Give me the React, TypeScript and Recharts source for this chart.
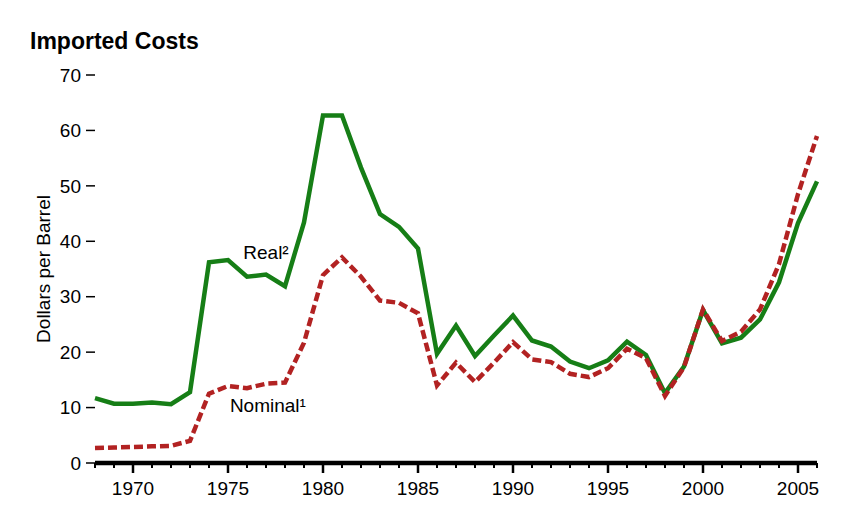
import React from "react";
import {
    LineChart,
    Line,
    XAxis,
    YAxis,
    Label,
    ReferenceDot,
} from "recharts";

const years = [
    1968, 1969, 1970, 1971, 1972, 1973, 1974, 1975, 1976, 1977,
    1978, 1979, 1980, 1981, 1982, 1983, 1984, 1985, 1986, 1987,
    1988, 1989, 1990, 1991, 1992, 1993, 1994, 1995, 1996, 1997,
    1998, 1999, 2000, 2001, 2002, 2003, 2004, 2005, 2006,
];

// dollars per barrel
const realCost = [
    11.7, 10.7, 10.7, 10.9, 10.6, 12.8, 36.2, 36.6, 33.6, 34.0,
    31.9, 43.4, 62.7, 62.7, 53.3, 44.9, 42.6, 38.7, 19.7, 24.8,
    19.3, 23.0, 26.6, 22.1, 21.0, 18.3, 17.1, 18.5, 21.9, 19.5,
    12.6, 17.4, 27.6, 21.6, 22.6, 25.9, 32.6, 43.3, 50.8,
];

const nominalCost = [
    2.7, 2.8, 2.9, 3.0, 3.1, 4.0, 12.5, 13.9, 13.5, 14.3,
    14.5, 21.7, 33.9, 37.1, 33.6, 29.3, 28.9, 27.0, 14.0, 18.1,
    14.6, 18.1, 21.8, 18.7, 18.2, 16.1, 15.5, 17.1, 20.6, 18.9,
    12.1, 17.3, 27.7, 22.0, 23.7, 27.7, 35.9, 48.5, 59.0,
];

const yTicks = [0, 10, 20, 30, 40, 50, 60, 70];

const rows = years.map((year, i) => ({
    year,
    real: realCost[i],
    nominal: nominalCost[i],
}));

const FONT = '"Liberation Sans", Arial, sans-serif';

function YearTick(props: any) {
    const { x, y, payload } = props;
    const major = payload.value % 5 === 0;
    return (
        <g>
            <line
                x1={x}
                x2={x}
                y1={y}
                y2={y + (major ? 10 : 5)}
                stroke="#000"
                strokeWidth={major ? 2.5 : 2}
            />
            {major && (
                <text x={x} y={y + 32} textAnchor="middle" fontSize={19} fill="#000" fontFamily={FONT}>
                    {payload.value}
                </text>
            )}
        </g>
    );
}

function AxisTitle(props: any) {
    const vb = props.viewBox || { x: 0, y: 75, width: 95, height: 388 };
    const cx = vb.x + 43;
    const cy = vb.y + vb.height / 2;
    return (
        <text
            x={cx}
            y={cy}
            transform={`rotate(-90, ${cx}, ${cy})`}
            textAnchor="middle"
            dominantBaseline="central"
            fontSize={19}
            fill="#000"
            fontFamily={FONT}
        >
            Dollars per Barrel
        </text>
    );
}

export default function App() {
    return (
        <div
            style={{
                position: "absolute",
                left: 0,
                top: 0,
                width: 858,
                height: 516,
                background: "#fff",
                fontFamily: FONT,
            }}
        >
            <div
                style={{
                    position: "absolute",
                    left: 30,
                    top: 30,
                    fontSize: 23,
                    lineHeight: "22px",
                    fontWeight: 700,
                    color: "#000",
                }}
            >
                Imported Costs
            </div>
            <LineChart
                width={858}
                height={516}
                data={rows}
                margin={{ top: 75, right: 41, bottom: 0, left: 0 }}
            >
                <XAxis
                    dataKey="year"
                    type="number"
                    domain={[1968, 2006]}
                    ticks={years}
                    interval={0}
                    height={53}
                    tickSize={0}
                    tickMargin={0}
                    tickLine={false}
                    axisLine={{ stroke: "#000", strokeWidth: 4.5 }}
                    tick={<YearTick />}
                />
                <YAxis
                    type="number"
                    domain={[0, 70]}
                    ticks={yTicks}
                    width={95}
                    axisLine={false}
                    tickSize={9}
                    tickMargin={5}
                    tickLine={{ stroke: "#000", strokeWidth: 1.5 }}
                    tick={{ fill: "#000", fontSize: 19, fontFamily: FONT }}
                >
                    <Label content={<AxisTitle />} />
                </YAxis>
                <Line
                    type="linear"
                    dataKey="real"
                    stroke="#167e16"
                    strokeWidth={4.5}
                    dot={false}
                    activeDot={false}
                    isAnimationActive={false}
                />
                <Line
                    type="linear"
                    dataKey="nominal"
                    stroke="#b22222"
                    strokeWidth={4.5}
                    strokeDasharray="9 4"
                    dot={false}
                    activeDot={false}
                    isAnimationActive={false}
                />
                <ReferenceDot
                    x={1977}
                    y={38.1}
                    r={0}
                    fill="none"
                    stroke="none"
                    ifOverflow="visible"
                    label={{ value: "Real²", position: "center", fill: "#000", fontSize: 19, fontFamily: FONT }}
                />
                <ReferenceDot
                    x={1977.1}
                    y={10.5}
                    r={0}
                    fill="none"
                    stroke="none"
                    ifOverflow="visible"
                    label={{ value: "Nominal¹", position: "center", fill: "#000", fontSize: 19, fontFamily: FONT }}
                />
            </LineChart>
        </div>
    );
}
